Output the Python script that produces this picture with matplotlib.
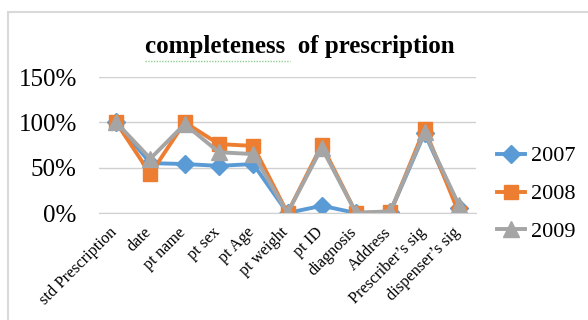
import matplotlib
matplotlib.use("Agg")
import matplotlib.pyplot as plt
from matplotlib.patches import Rectangle
from matplotlib.ticker import FuncFormatter, MultipleLocator
from matplotlib.transforms import ScaledTranslation

categories = ["std Prescription", "date", "pt name", "pt sex", "pt Age",
              "pt weight", "pt ID", "diagnosis", "Address",
              "Prescriber\u2019s sig", "dispenser\u2019s sig"]
y2007 = [100, 55, 54, 52, 54, 0, 8, 0, 1, 88, 5]
y2008 = [100, 43, 100, 76, 74, 0, 75, 0, 1, 93, 0]
y2009 = [100, 60, 98, 67, 65, 0, 72, 0, 2, 89, 9]
series = [("2007", y2007, "#5B9BD5", "D", 9),
          ("2008", y2008, "#ED7D31", "s", 10.5),
          ("2009", y2009, "#A5A5A5", "^", 11)]

plt.rcParams["font.family"] = ["Liberation Serif", "DejaVu Serif"]

fig = plt.figure(figsize=(5.88, 3.2), dpi=100)
# chart-area frame
fig.patches.append(Rectangle((8 / 588, -0.1), 1.2, 1 - 12 / 320 + 0.1,
                             transform=fig.transFigure, fill=False,
                             edgecolor="#D9D9D9", linewidth=1.5))

ax = fig.add_axes([99 / 588, 1 - 213 / 320, 377 / 588, 136 / 320])
x = list(range(len(categories)))
for name, vals, col, mk, ms in series:
    ax.plot(x, vals, color=col, linewidth=2.8, marker=mk, markersize=ms,
            label=name, solid_joinstyle="round")

ax.set_xlim(-0.5, len(categories) - 0.5)
ax.set_ylim(0, 150)
ax.yaxis.set_major_locator(MultipleLocator(50))
ax.yaxis.set_major_formatter(FuncFormatter(lambda v, p: f"{v:.0f}%"))
ax.grid(axis="y", color="#D0D0D0", linewidth=1)
ax.set_axisbelow(True)
for s in ["top", "right", "left"]:
    ax.spines[s].set_visible(False)
ax.spines["bottom"].set_color("#D0D0D0")
ax.tick_params(axis="y", length=0, labelsize=18, pad=16)
ax.tick_params(axis="x", length=0, labelsize=11.7, pad=9)
ax.set_xticks(x)
ax.set_xticklabels(categories, rotation=45, ha="right", rotation_mode="anchor")
shift = ScaledTranslation(-7 / 100, 1 / 100, fig.dpi_scale_trans)
for lbl in ax.get_xticklabels():
    lbl.set_transform(lbl.get_transform() + shift)

fig.text(300 / 588, 1 - 46 / 320, "completeness  of prescription",
         ha="center", va="center", fontsize=18, fontweight="bold")
# proofing squiggle under the first word of the title
fig.add_artist(plt.Line2D([145 / 588, 290 / 588], [1 - 61 / 320] * 2,
                          transform=fig.transFigure, color="#8FD08F",
                          linewidth=1, linestyle=(0, (1, 1))))

ax.legend(loc="center left", bbox_to_anchor=(497 / 588, 1 - 194 / 320),
          bbox_transform=fig.transFigure, frameon=False, fontsize=16,
          handlelength=1.25, labelspacing=0.78, handletextpad=0.3,
          borderpad=0, borderaxespad=0)

fig.savefig("out.png", dpi=100)
